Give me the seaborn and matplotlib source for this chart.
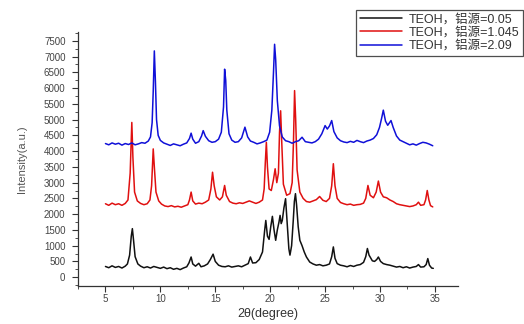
import matplotlib
matplotlib.use("Agg")
import matplotlib.pyplot as plt
import seaborn as sns
import pandas as pd
from matplotlib.ticker import MultipleLocator

# ---- data ----
labels = ["TEOH，铝源=0.05", "TEOH，铝源=1.045", "TEOH，铝源=2.09"]
colors = ["#111111", "#e01010", "#1010d8"]

x_black = [5.0, 5.3, 5.6, 5.9, 6.2, 6.5, 6.8, 7.0, 7.2, 7.35, 7.45, 7.55, 7.7, 7.95, 8.2, 8.5, 8.8, 9.1, 9.4, 9.7,
           10.0, 10.3, 10.6, 10.9, 11.2, 11.5, 11.8, 12.1, 12.4, 12.6, 12.8, 12.95, 13.2, 13.5, 13.7, 14.0, 14.3,
           14.55, 14.8, 15.0, 15.3, 15.6, 15.9, 16.2, 16.5, 16.8, 17.1, 17.4, 17.7, 18.0, 18.2, 18.4, 18.7, 19.0,
           19.3, 19.5, 19.6, 19.75, 19.9, 20.05, 20.2, 20.35, 20.5, 20.65, 20.8, 20.9, 21.0, 21.1, 21.25, 21.4,
           21.55, 21.7, 21.8, 21.95, 22.1, 22.2, 22.3, 22.4, 22.55, 22.7, 22.9, 23.1, 23.3, 23.6, 23.9, 24.2, 24.5,
           24.8, 25.1, 25.4, 25.6, 25.75, 25.9, 26.1, 26.4, 26.7, 27.0, 27.3, 27.6, 27.9, 28.2, 28.5, 28.7, 28.85,
           29.0, 29.3, 29.5, 29.7, 29.85, 30.05, 30.3, 30.6, 30.9, 31.2, 31.5, 31.8, 32.1, 32.4, 32.7, 33.0, 33.3,
           33.5, 33.7, 34.0, 34.2, 34.35, 34.5, 34.7, 34.85]
y_black = [340, 300, 360, 310, 340, 290, 350, 420, 700, 1300, 1540, 1200, 650, 420, 350, 300, 330, 290, 340, 310,
           280, 320, 270, 300, 250, 280, 240, 290, 330, 450, 640, 420, 350, 440, 330, 360, 420,
           560, 730, 500, 380, 340, 330, 360, 320, 340, 360, 330, 380, 430, 640, 450, 460, 560,
           800, 1500, 1800, 1300, 1200, 1600, 1930, 1500, 1170, 1500, 1750, 1960, 1700, 1800, 2200, 2490,
           1700, 900, 700, 1000, 1800, 2400, 2650, 2300, 1600, 1170, 1000, 800, 640, 480, 420, 380, 400,
           360, 380, 420, 650, 960, 600, 430, 380, 360, 330, 370, 340, 380, 400, 470, 650, 910,
           700, 520, 500, 560, 640, 500, 430, 400, 380, 350, 320, 340, 300, 330, 290, 320, 340,
           400, 320, 330, 400, 590, 380, 290, 280]

x_red = [5.0, 5.3, 5.6, 5.9, 6.2, 6.5, 6.8, 7.05, 7.25, 7.4, 7.5, 7.65, 7.9, 8.2, 8.5, 8.8, 9.05, 9.2, 9.35, 9.45,
         9.6, 9.85, 10.1, 10.4, 10.7, 11.0, 11.3, 11.6, 11.9, 12.2, 12.5, 12.65, 12.8, 12.95, 13.2, 13.5, 13.8,
         14.1, 14.4, 14.6, 14.75, 14.9, 15.1, 15.4, 15.65, 15.85, 16.0, 16.3, 16.6, 16.9, 17.2, 17.5, 17.8, 18.1,
         18.4, 18.7, 19.0, 19.3, 19.45, 19.55, 19.65, 19.75, 19.9, 20.1, 20.3, 20.45, 20.6, 20.75, 20.85, 20.95,
         21.05, 21.2, 21.5, 21.8, 22.0, 22.12, 22.22, 22.32, 22.45, 22.7, 23.0, 23.3, 23.6, 23.9, 24.2, 24.5,
         24.8, 25.1, 25.4, 25.6, 25.75, 25.9, 26.1, 26.4, 26.7, 27.0, 27.3, 27.6, 27.9, 28.2, 28.5, 28.7, 28.9,
         29.1, 29.4, 29.65, 29.85, 30.05, 30.3, 30.6, 30.9, 31.2, 31.5, 31.8, 32.1, 32.4, 32.7, 33.0, 33.3, 33.5,
         33.7, 34.0, 34.15, 34.3, 34.45, 34.6, 34.8]
y_red = [2330, 2280, 2350, 2300, 2330, 2280, 2340, 2450, 3300, 4910, 3800, 2700, 2420, 2340, 2300, 2330, 2450, 2900, 4070, 3500,
         2700, 2420, 2320, 2260, 2240, 2270, 2230, 2250, 2220, 2260, 2300, 2450, 2700, 2420, 2320, 2350, 2330,
         2380, 2450, 2800, 3330, 2900, 2550, 2450, 2550, 2910, 2600, 2400, 2350, 2330, 2360, 2340, 2380, 2420,
         2380, 2340, 2380, 2450, 2800, 3600, 4280, 3500, 2800, 2750, 3100, 3440, 3000, 3300, 4600, 5280,
         4300, 2950, 2600, 2650, 3000, 4300, 5920, 5000, 3400, 2700, 2500, 2400, 2380, 2420, 2460, 2560,
         2440, 2400, 2500, 2900, 3600, 2900, 2500, 2370, 2330, 2300, 2320, 2280, 2300, 2310, 2350, 2500, 2910,
         2600, 2520, 2700, 3050, 2700, 2550, 2520, 2450, 2400, 2330, 2300, 2280, 2260, 2240, 2260, 2300, 2380,
         2280, 2300, 2450, 2750, 2450, 2270, 2230]

x_blue = [5.0, 5.3, 5.6, 5.9, 6.2, 6.5, 6.8, 7.1, 7.4, 7.7, 8.0, 8.3, 8.6, 8.9, 9.1, 9.25, 9.35, 9.45, 9.55, 9.65,
          9.8, 10.0, 10.3, 10.6, 10.9, 11.2, 11.5, 11.8, 12.1, 12.4, 12.65, 12.8, 12.95, 13.2, 13.5, 13.75, 13.9,
          14.1, 14.4, 14.7, 15.0, 15.3, 15.55, 15.75, 15.85, 15.95, 16.05, 16.25, 16.5, 16.8, 17.1, 17.4, 17.7,
          17.95, 18.2, 18.5, 18.8, 19.1, 19.4, 19.7, 19.95, 20.15, 20.3, 20.4, 20.5, 20.65, 20.85, 21.1, 21.4,
          21.7, 22.0, 22.3, 22.6, 22.9, 23.2, 23.5, 23.8, 24.1, 24.4, 24.7, 25.0, 25.2, 25.4, 25.6, 25.8, 26.1,
          26.4, 26.7, 27.0, 27.3, 27.6, 27.9, 28.2, 28.5, 28.8, 29.1, 29.4, 29.7, 29.95, 30.15, 30.3, 30.5, 30.7,
          31.0, 31.2, 31.5, 31.8, 32.1, 32.4, 32.7, 33.0, 33.3, 33.6, 33.9, 34.2, 34.5, 34.8]
y_blue = [4240, 4200, 4260, 4220, 4250, 4190, 4240, 4210, 4260, 4200, 4230, 4270, 4250, 4320, 4450, 4900, 5900, 7180, 6200, 5000,
          4500, 4340, 4260, 4220, 4180, 4230, 4200, 4170, 4220, 4260, 4400, 4570, 4380, 4250, 4300, 4480, 4650,
          4470, 4330, 4280, 4300, 4380, 4600, 5400, 6600, 6250, 5300, 4550, 4350, 4280, 4300, 4420, 4760,
          4450, 4320, 4280, 4230, 4260, 4300, 4350, 4600, 5300, 6500, 7390, 6900, 5600, 4800, 4450, 4330,
          4300, 4250, 4300, 4330, 4440, 4300, 4280, 4260, 4300, 4380, 4550, 4810, 4700, 4800, 4970, 4620, 4420,
          4330, 4290, 4270, 4310, 4280, 4340, 4300, 4270, 4320, 4350, 4400, 4520, 4750, 5050, 5300, 4950, 4820,
          4970, 4750, 4480, 4350, 4300, 4250, 4200, 4230, 4190, 4240, 4280, 4260, 4220, 4170]

x_ticks = [5, 10, 15, 20, 25, 30, 35]
y_ticks = [0, 500, 1000, 1500, 2000, 2500, 3000, 3500, 4000, 4500, 5000, 5500, 6000, 6500, 7000, 7500]

# ---- plotting ----
sns.set_theme(style="white")
plt.rcParams['font.family'] = ['Liberation Sans', 'Noto Sans CJK SC', 'DejaVu Sans']

fig = plt.figure(figsize=(5.24, 3.24), dpi=100)
ax = fig.add_axes([78 / 524, 1 - 286 / 324, (458 - 78) / 524, (286 - 32) / 324])

series = [(x_black, y_black), (x_red, y_red), (x_blue, y_blue)]
for (xs, ys), lab, col in zip(series, labels, colors):
    df = pd.DataFrame({"x": xs, "y": ys})
    sns.lineplot(data=df, x="x", y="y", ax=ax, color=col, lw=1.1, label=lab, sort=False)

ax.set_xlim(2.5, 37.1)
ax.set_ylim(-280, 7780)
ax.set_xticks(x_ticks)
ax.set_yticks(y_ticks)
ax.xaxis.set_minor_locator(MultipleLocator(2.5))
ax.yaxis.set_minor_locator(MultipleLocator(250))

for s in ["top", "right"]:
    ax.spines[s].set_visible(False)
for s in ["left", "bottom"]:
    ax.spines[s].set_color("#333333")
    ax.spines[s].set_linewidth(0.9)

ax.tick_params(axis="both", which="major", direction="out", length=4, width=0.8,
               color="#333333", labelsize=7, labelcolor="#444444", pad=2)
ax.tick_params(axis="y", which="major", pad=5)
ax.tick_params(axis="both", which="minor", direction="out", length=2, width=0.6, color="#333333")
ax.tick_params(axis="x", which="both", bottom=True)
ax.tick_params(axis="y", which="both", left=True)

ax.set_xlabel("2θ(degree)", fontsize=9, color="#333333", labelpad=3)
ax.set_ylabel("Intensity(a.u.)", fontsize=8, color="#555555", labelpad=12)

ax.legend_.remove()
handles, labs = ax.get_legend_handles_labels()
leg = fig.legend(handles, labs, loc="upper right", bbox_to_anchor=(0.998, 0.97),
                 fontsize=9, frameon=True, fancybox=False, handlelength=3.4,
                 handletextpad=0.5, labelspacing=0.1, borderpad=0.3, borderaxespad=0.0)
leg.get_frame().set_edgecolor("#222222")
leg.get_frame().set_linewidth(0.9)
for t in leg.get_texts():
    t.set_color("#333333")

fig.savefig("out.png", dpi=100)
